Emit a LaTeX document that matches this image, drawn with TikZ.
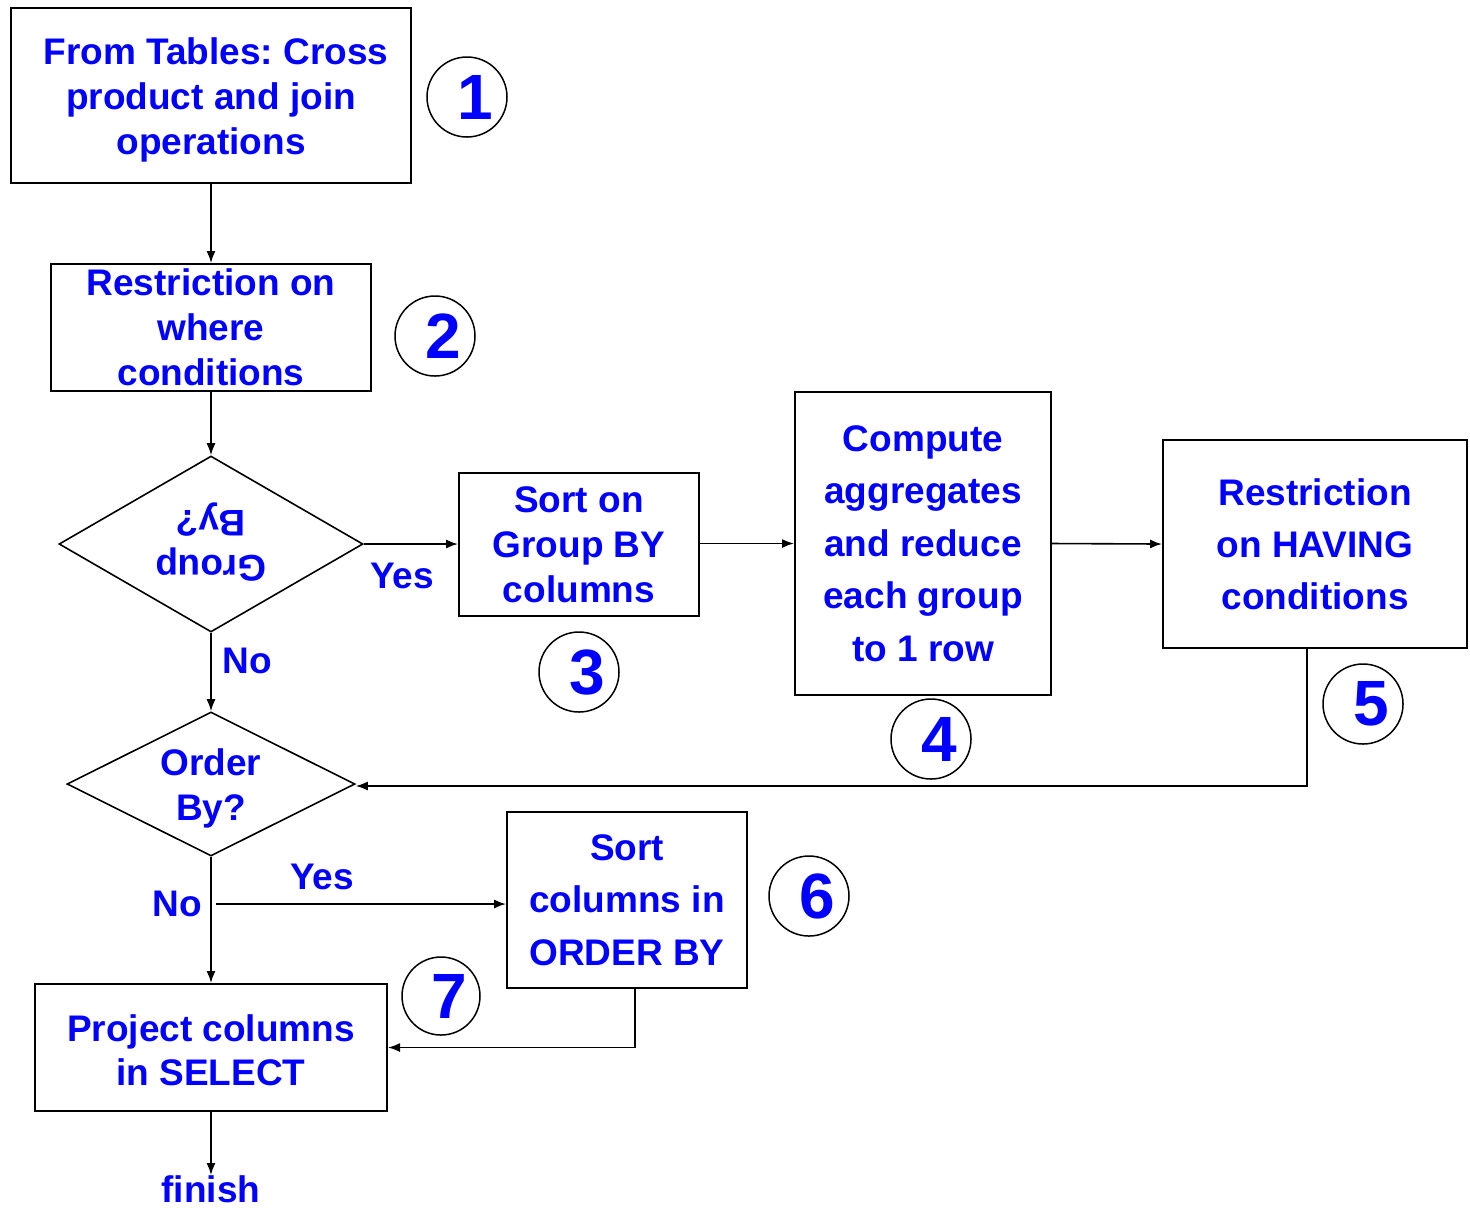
\documentclass[tikz,border=0pt]{standalone}
\usepackage{fontspec}
\setmainfont{Liberation Sans}
\usetikzlibrary{shapes.geometric,arrows.meta,calc}
\definecolor{txtblue}{RGB}{0,0,255}
\frenchspacing
\newcommand{\numtxt}[1]{\hspace*{8pt}#1}
\begin{document}
\begin{tikzpicture}[x=0.5pt,y=-0.5pt,
  stepbox/.style={draw=black,line width=1pt,inner sep=0pt,align=center,text=txtblue},
  fa/.style={font=\fontsize{18.5}{22.5}\selectfont\bfseries},
  fb/.style={font=\fontsize{18.5}{26.25}\selectfont\bfseries},
  decision/.style={draw=black,line width=0.8pt,diamond,inner sep=0pt,aspect=1.7},
  numc/.style={draw=black,line width=0.75pt,circle,inner sep=0pt,minimum size=40pt,text=txtblue,font=\fontsize{32}{32}\selectfont\bfseries},
  lbl/.style={text=txtblue,font=\fontsize{18.5}{22.5}\selectfont\bfseries,inner sep=0pt},
  arr/.style={line width=0.8pt,-{Latex[length=6pt,width=4.5pt]}},
  ln/.style={line width=0.8pt}
]
\useasboundingbox (0,0) rectangle (1470,1207);

% boxes
\node[stepbox,minimum width=200pt,minimum height=87.5pt] (b1) at (211,95.5) {};
\node[lbl,align=center] (b1t) at (211,100) {From Tables: Cross\hspace*{-5pt}\\product and join\\operations};
\node[stepbox,fa,minimum width=160pt,minimum height=63.5pt] (b2) at (211,327.5) {Restriction on\\where\\conditions};
\node[stepbox,fa,minimum width=120pt,minimum height=71.5pt] (b3) at (579,544.5) {Sort on\\Group BY\\columns};
\node[stepbox,fb,minimum width=128pt,minimum height=151.5pt] (b4) at (923,543.5) {Compute\\aggregates\\and reduce\\each group\\to 1 row};
\node[stepbox,font=\fontsize{18.5}{26}\selectfont\bfseries,minimum width=152pt,minimum height=104pt] (b5) at (1315,544) {Restriction\\on HAVING\\conditions};
\node[stepbox,fb,minimum width=120pt,minimum height=88pt] (b6) at (627,900) {Sort\\columns in\\ORDER BY};
\node[stepbox,minimum width=176pt,minimum height=63.5pt] (b7) at (211,1047.5) {};
\node[lbl,align=center,font=\fontsize{18.5}{22}\selectfont\bfseries] (b7t) at (211,1050) {Project columns\\in SELECT};

% decisions
\node[decision,minimum width=152pt,minimum height=88pt] (d1) at (211,544) {};
\node[rotate=180,lbl,align=center] (d1t) at (211,542) {Group\\By?};
\node[decision,minimum width=144pt,minimum height=72pt] (d2) at (211,784) {};
\node[lbl,align=center] (d2t) at (211,788) {Order\\By?};

% numbers
\node[numc] (n1) at (467,97) {\numtxt{1}};
\node[numc] (n2) at (435,336) {\numtxt{2}};
\node[numc] (n3) at (579,672) {\numtxt{3}};
\node[numc] (n4) at (931,739) {\numtxt{4}};
\node[numc] (n5) at (1363,704) {\numtxt{5}};
\node[numc] (n6) at (809,896) {\numtxt{6}};
\node[numc,minimum size=39pt] (n7) at (441,996) {\numtxt{7}};

% labels
\node[lbl] (y1) at (402,576) {Yes};
\node[lbl] (no1) at (247,661) {No};
\node[lbl] (no2) at (177,904) {No};
\node[lbl] (y2) at (322,877) {Yes};
\node[lbl,anchor=north] (fin) at (211,1175) {finish};

% connectors
\coordinate (ys) at ([xshift=2.5pt,yshift=-2pt]d2.south |- b6.west);
\draw[arr] (b1.south) -- (b2.north);
\draw[arr] (b2.south) -- (d1.north);
\draw[arr] (d1.east) -- (d1.east -| b3.west);
\draw[arr] (b3.east |- b4.west) -- (b4.west);
\draw[arr] (b4.east) -- (b5.west);
\draw[arr] (d1.south) -- (d2.north);
\draw[arr] ([xshift=-4pt]b5.south) |- ([yshift=-1pt]d2.east);
\draw[arr] (d2.south) -- (b7.north);
\draw[arr] (ys) -- (ys -| b6.west);
\draw[arr] ([xshift=4pt]b6.south) |- (b7.east);
\draw[arr] (b7.south) -- (fin.north);
\end{tikzpicture}
\end{document}
